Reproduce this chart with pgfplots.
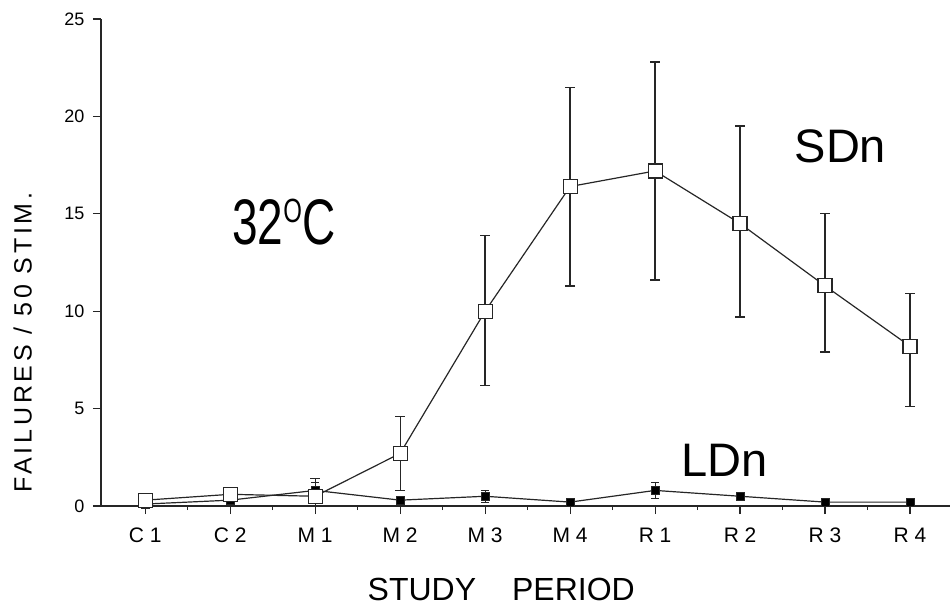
\documentclass[border=0pt]{standalone}
\usepackage{fontspec}
\setmainfont{Liberation Sans}
\usepackage{pgfplots}
\usepackage{pgfplotstable}
\pgfplotsset{compat=1.18}

\pgfplotstableread{
x   y     ep    em
1   0.3   0.2   0.2
2   0.6   0.3   0.3
3   0.5   0.9   0.5
4   2.7   1.9   1.9
5   10.0  3.9   3.8
6   16.4  5.1   5.1
7   17.2  5.6   5.6
8   14.5  5.0   4.8
9   11.3  3.7   3.4
10  8.2   2.7   3.1
}\sdn

\pgfplotstableread{
x   y     ep    em
1   0.1   0.1   0.1
2   0.3   0.2   0.2
3   0.8   0.4   0.4
4   0.3   0.2   0.2
5   0.5   0.3   0.3
6   0.2   0.2   0.2
7   0.8   0.4   0.4
8   0.5   0.2   0.2
9   0.2   0.2   0.2
10  0.2   0.2   0.2
}\ldn

\begin{document}
\begin{tikzpicture}[x=1pt,y=1pt]
\useasboundingbox (-101,-100) rectangle (850,506);
\begin{axis}[
  at={(0,0)}, anchor=south west,
  scale only axis, width=849pt, height=487pt,
  xmin=0.48, xmax=10.47, ymin=0, ymax=25,
  axis x line=bottom, axis y line=left,
  axis line style={-, line width=1.6pt, black!85},
  xtick={1,...,10},
  xticklabels={C 1, C 2, M 1, M 2, M 3, M 4, R 1, R 2, R 3, R 4},
  minor xtick={1.5,2.5,...,9.5},
  ytick={0,5,...,25},
  tick align=outside,
  major tick length=8pt, minor tick length=4pt,
  every tick/.style={line width=1.2pt, black!85},
  xticklabel style={font=\fontsize{21}{21}\selectfont, yshift=-10pt,
    text height=15pt, text depth=0pt},
  yticklabel style={font=\fontsize{18}{18}\selectfont, xshift=-5pt},
  /pgf/number format/assume math mode=true,
  clip=false,
]
\addplot[black!85, line width=1.2pt, mark=square*, mark size=4pt,
  mark options={fill=black, line width=0.8pt},
  error bars/.cd, y dir=both, y explicit,
  error bar style={line width=1.1pt, black!85},
  error mark options={rotate=90, mark size=4pt, line width=1.1pt}]
  table[x=x, y=y, y error plus=ep, y error minus=em] {\ldn};
\addplot[black!85, line width=1.2pt, mark=square*, mark size=7pt,
  mark options={fill=white, line width=1.2pt},
  error bars/.cd, y dir=both, y explicit,
  error bar style={line width=1.3pt, black!85},
  error mark options={rotate=90, mark size=5pt, line width=1.3pt}]
  table[x=x, y=y, y error plus=ep, y error minus=em] {\sdn};

\node[font=\fontsize{46}{46}\selectfont, anchor=center] at (axis cs:2.63,14.58)
  {\scalebox{1}[1.4]{32\raisebox{16pt}{\fontsize{24}{24}\selectfont O}C}};
\node[font=\fontsize{47}{47}\selectfont, anchor=center] at (axis cs:9.18,18.45) {SDn};
\node[font=\fontsize{47}{47}\selectfont, anchor=center] at (axis cs:7.82,2.34) {LDn};
\node[font=\fontsize{25}{25}\selectfont, rotate=90, anchor=center] at (axis cs:-0.44,8.4)
  {\addfontfeatures{LetterSpace=15}FAILURES / 50 STIM.};
\node[font=\fontsize{32}{32}\selectfont, anchor=center] at (axis cs:5.19,-4.26)
  {STUDY\hspace{36pt}PERIOD};
\end{axis}
\end{tikzpicture}
\end{document}
